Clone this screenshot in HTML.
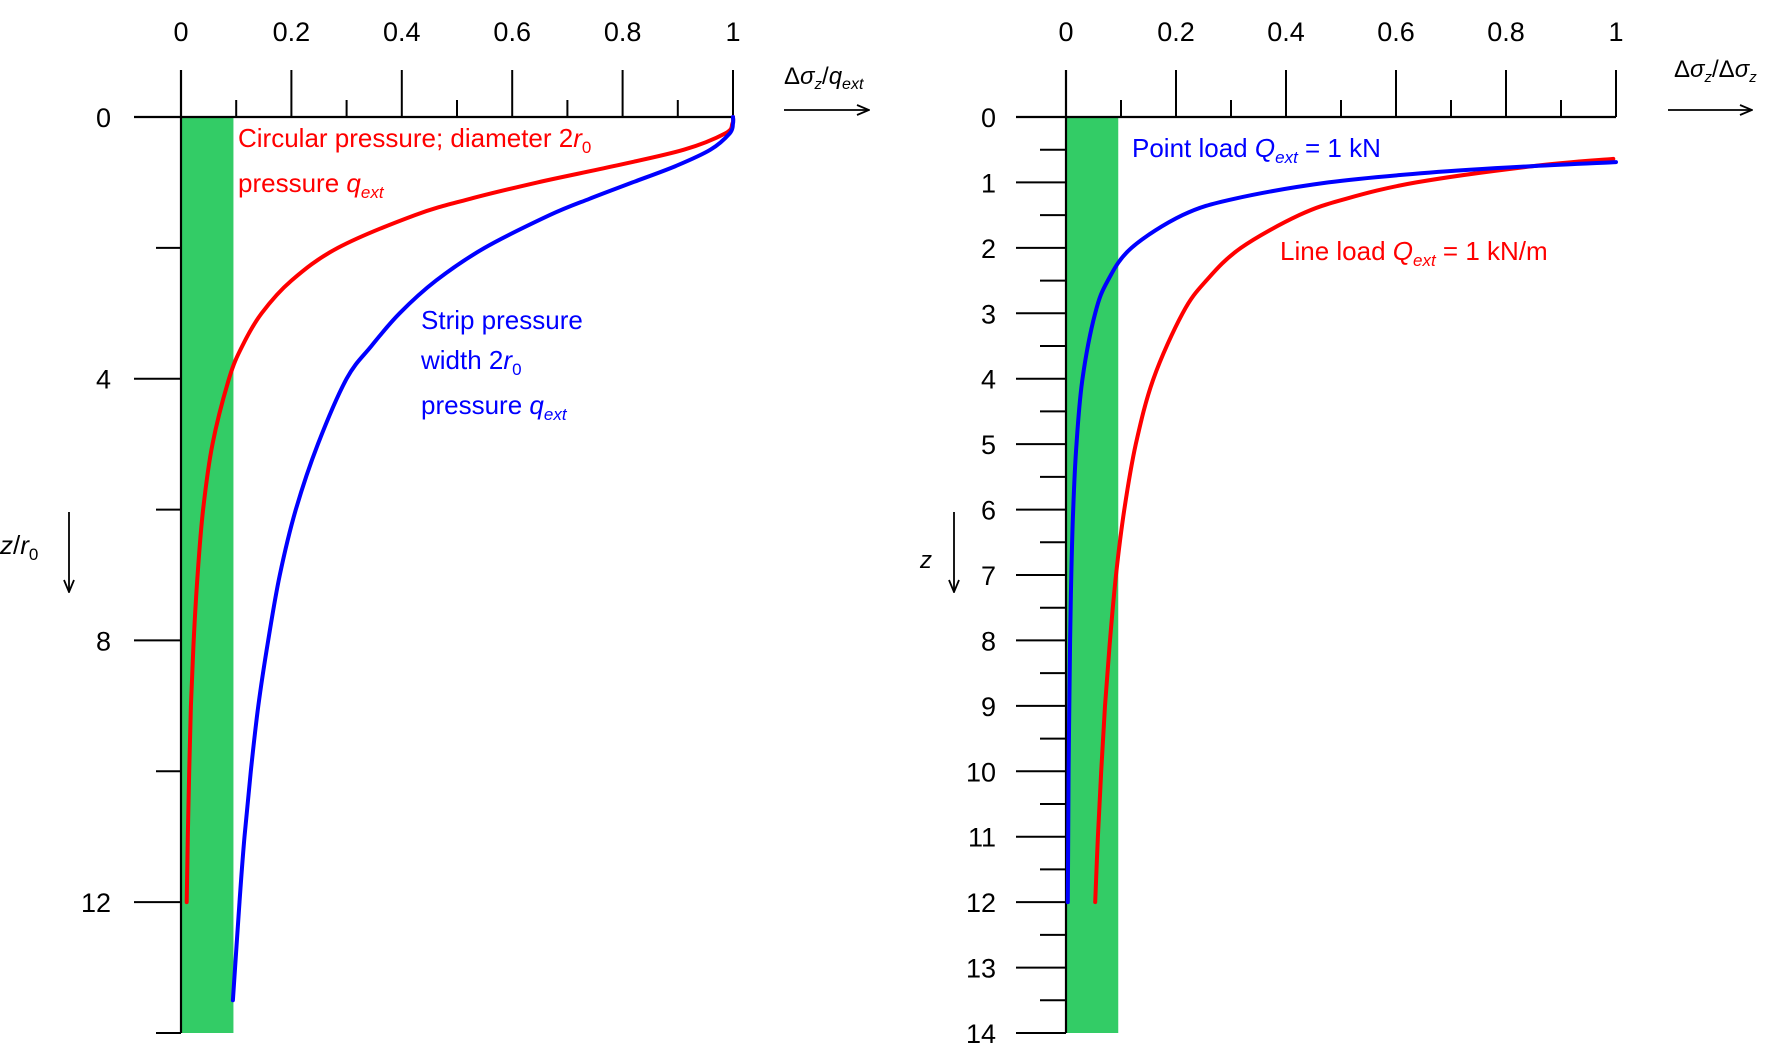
<!DOCTYPE html>
<html><head><meta charset="utf-8"><style>
body{margin:0;background:#fff}
svg{display:block;font-family:"Liberation Sans",sans-serif}
</style></head><body>
<svg id="chart" width="1776" height="1045" viewBox="0 0 1776 1045" xmlns="http://www.w3.org/2000/svg">
<g id="left"></g>
<g id="right"></g>
</svg>
<script>
// Left panel data
const xTickLabels = ["0","0.2","0.4","0.6","0.8","1"];
const leftYTickLabels = ["0","4","8","12"];
const rightYTickLabels = ["0","1","2","3","4","5","6","7","8","9","10","11","12","13","14"];
const circZ = [0,0.1,0.25,0.5,0.75,1,1.25,1.5,2,2.5,3,3.5,4,5,6,7,8,9,10,11,12];
const circV = [1,0.999,0.986,0.911,0.784,0.646,0.524,0.424,0.284,0.200,0.146,0.111,0.087,0.057,0.040,0.030,0.023,0.018,0.0148,0.0123,0.0103];
const stripZ = [0,0.1,0.25,0.5,0.75,1,1.25,1.5,2,2.5,3,3.5,4,5,6,7,8,9,10,11,12,13.5];
const stripV = [1,1.0,0.994,0.959,0.896,0.818,0.740,0.668,0.550,0.462,0.396,0.345,0.300,0.248,0.208,0.179,0.158,0.140,0.1265,0.115,0.106,0.094];
// Right panel data
const pointZ = [0.69,0.75,0.85,1,1.25,1.5,2,2.5,3,4,5,6,7,8,10,12];
const pointV = [1.0,0.849,0.661,0.477,0.306,0.212,0.119,0.076,0.053,0.030,0.019,0.013,0.0097,0.0075,0.0048,0.0033];
const lineZ = [0.64,0.75,1,1.25,1.5,2,2.5,3,4,5,6,7,8,9,10,11,12];
const lineV = [0.995,0.849,0.637,0.509,0.424,0.318,0.255,0.212,0.159,0.127,0.106,0.091,0.080,0.071,0.064,0.058,0.053];
const bandV = 0.095;

const NS="http://www.w3.org/2000/svg";
function mk(parent,tag,attrs){const e=document.createElementNS(NS,tag);for(const k in attrs)e.setAttribute(k,attrs[k]);parent.appendChild(e);return e;}
function smooth(pts){let d="M"+pts[0][0].toFixed(1)+","+pts[0][1].toFixed(1);
 for(let i=0;i<pts.length-1;i++){const p0=pts[Math.max(0,i-1)],p1=pts[i],p2=pts[i+1],p3=pts[Math.min(pts.length-1,i+2)];
  const c1=[p1[0]+(p2[0]-p0[0])/6,p1[1]+(p2[1]-p0[1])/6],c2=[p2[0]-(p3[0]-p1[0])/6,p2[1]-(p3[1]-p1[1])/6];
  d+=" C"+c1[0].toFixed(1)+","+c1[1].toFixed(1)+" "+c2[0].toFixed(1)+","+c2[1].toFixed(1)+" "+p2[0].toFixed(1)+","+p2[1].toFixed(1);}
 return d;}

function panel(g,o){
 const sx=v=>o.x0+(o.x1-o.x0)*v, sy=z=>o.y0+(o.yb-o.y0)*z/o.zmax;
 // band
 const band=mk(g,"rect",{x:sx(0),y:sy(0),width:sx(bandV)-sx(0),height:sy(o.zmax)-sy(0),fill:"#33cc66"});
 
 
 // axes
 const ax=mk(g,"line",{x1:o.hStart,y1:sy(0),x2:sx(1),y2:sy(0),stroke:"#000","stroke-width":2.2});
 
 
 const ay=mk(g,"line",{x1:sx(0),y1:70,x2:sx(0),y2:sy(o.zmax),stroke:"#000","stroke-width":2.2});
 
 
 for(let i=0;i<=10;i++){const x=sx(i/10);
  mk(g,"line",{x1:x,y1:i%2?100:70,x2:x,y2:sy(0),stroke:"#000","stroke-width":2});}
 xTickLabels.forEach((t,i)=>{const tx=mk(g,"text",{x:sx(i*0.2),y:41,"font-size":27,"text-anchor":"middle"});tx.textContent=t;
  
  });
 for(let z=0;z<=o.zmax;z+=o.minor){const major=Math.abs(z/o.major-Math.round(z/o.major))<1e-6;
  const y=sy(z); mk(g,"line",{x1:major?o.majStart:o.minStart,y1:y,x2:sx(0),y2:y,stroke:"#000","stroke-width":2});}
 o.ylabels.forEach((t,i)=>{const tx=mk(g,"text",{x:o.labX,y:sy(i*o.major)+10,"font-size":27,"text-anchor":"end"});tx.textContent=t;
  
  });
 o.series.forEach(s=>{const pts=s.z.map((z,i)=>[sx(s.v[i]),sy(z)]);
  const p=mk(g,"path",{d:smooth(pts),fill:"none",stroke:s.c,"stroke-width":4,"stroke-linecap":"round"});
  
  });
}
panel(document.getElementById("left"),{x0:181,x1:733,y0:117,yb:1033,zmax:14,major:4,minor:2,hStart:134,majStart:134,minStart:156,labX:111,ylabels:leftYTickLabels,
 series:[{z:circZ,v:circV,c:"#ff0000",name:"circular-pressure-curve"},{z:stripZ,v:stripV,c:"#0000ff",name:"strip-pressure-curve"}]});
panel(document.getElementById("right"),{x0:1066,x1:1616,y0:117,yb:1033,zmax:14,major:1,minor:0.5,hStart:1016,majStart:1016,minStart:1040,labX:996,ylabels:rightYTickLabels,
 series:[{z:lineZ,v:lineV,c:"#ff0000",name:"line-load-curve"},{z:pointZ,v:pointV,c:"#0000ff",name:"point-load-curve"}]});
</script>
<svg style="position:absolute;left:0;top:0" width="1776" height="1045" font-family="Liberation Sans, sans-serif">
<defs><marker id="ah" markerWidth="14" markerHeight="12" refX="13" refY="6" orient="auto" markerUnits="userSpaceOnUse"><path d="M1,1 L13,6 L1,11" fill="none" stroke="#000" stroke-width="1.8"/></marker></defs>
<text x="238" y="147" font-size="26" fill="#ff0000">Circular pressure; diameter 2<tspan font-style="italic">r</tspan><tspan font-size="17" dy="6">0</tspan></text>
<text x="238" y="192" font-size="26" fill="#ff0000">pressure <tspan font-style="italic">q</tspan><tspan font-style="italic" font-size="17" dy="6">ext</tspan></text>
<text x="421" y="329" font-size="26" fill="#0000ff">Strip pressure</text>
<text x="421" y="369" font-size="26" fill="#0000ff">width 2<tspan font-style="italic">r</tspan><tspan font-size="17" dy="6">0</tspan></text>
<text x="421" y="414" font-size="26" fill="#0000ff">pressure <tspan font-style="italic">q</tspan><tspan font-style="italic" font-size="17" dy="6">ext</tspan></text>
<text x="1132" y="157" font-size="26" fill="#0000ff">Point load <tspan font-style="italic">Q</tspan><tspan font-style="italic" font-size="17" dy="6">ext</tspan><tspan dy="-6"> = 1 kN</tspan></text>
<text x="1280" y="260" font-size="26" fill="#ff0000">Line load <tspan font-style="italic">Q</tspan><tspan font-style="italic" font-size="17" dy="6">ext</tspan><tspan dy="-6"> = 1 kN/m</tspan></text>
<text x="784" y="84" font-size="24">Δ<tspan font-style="italic">σ</tspan><tspan font-style="italic" font-size="15" dy="5">z</tspan><tspan dy="-5">/</tspan><tspan font-style="italic">q</tspan><tspan font-style="italic" font-size="16" dy="5">ext</tspan></text>
<line x1="784" y1="110" x2="869" y2="110" stroke="#000" stroke-width="1.8" marker-end="url(#ah)"/>
<text x="1674" y="77" font-size="24">Δ<tspan font-style="italic">σ</tspan><tspan font-style="italic" font-size="15" dy="5">z</tspan><tspan dy="-5">/Δ</tspan><tspan font-style="italic">σ</tspan><tspan font-style="italic" font-size="15" dy="5">z</tspan></text>
<line x1="1668" y1="110" x2="1752" y2="110" stroke="#000" stroke-width="1.8" marker-end="url(#ah)"/>
<text x="0" y="554" font-size="26"><tspan font-style="italic">z</tspan>/<tspan font-style="italic">r</tspan><tspan font-size="17" dy="6">0</tspan></text>
<line x1="69" y1="512" x2="69" y2="592" stroke="#000" stroke-width="1.8" marker-end="url(#ah)"/>
<text x="920" y="568" font-size="24" font-style="italic">z</text>
<line x1="954" y1="512" x2="954" y2="592" stroke="#000" stroke-width="1.8" marker-end="url(#ah)"/>
</svg>
</body></html>
